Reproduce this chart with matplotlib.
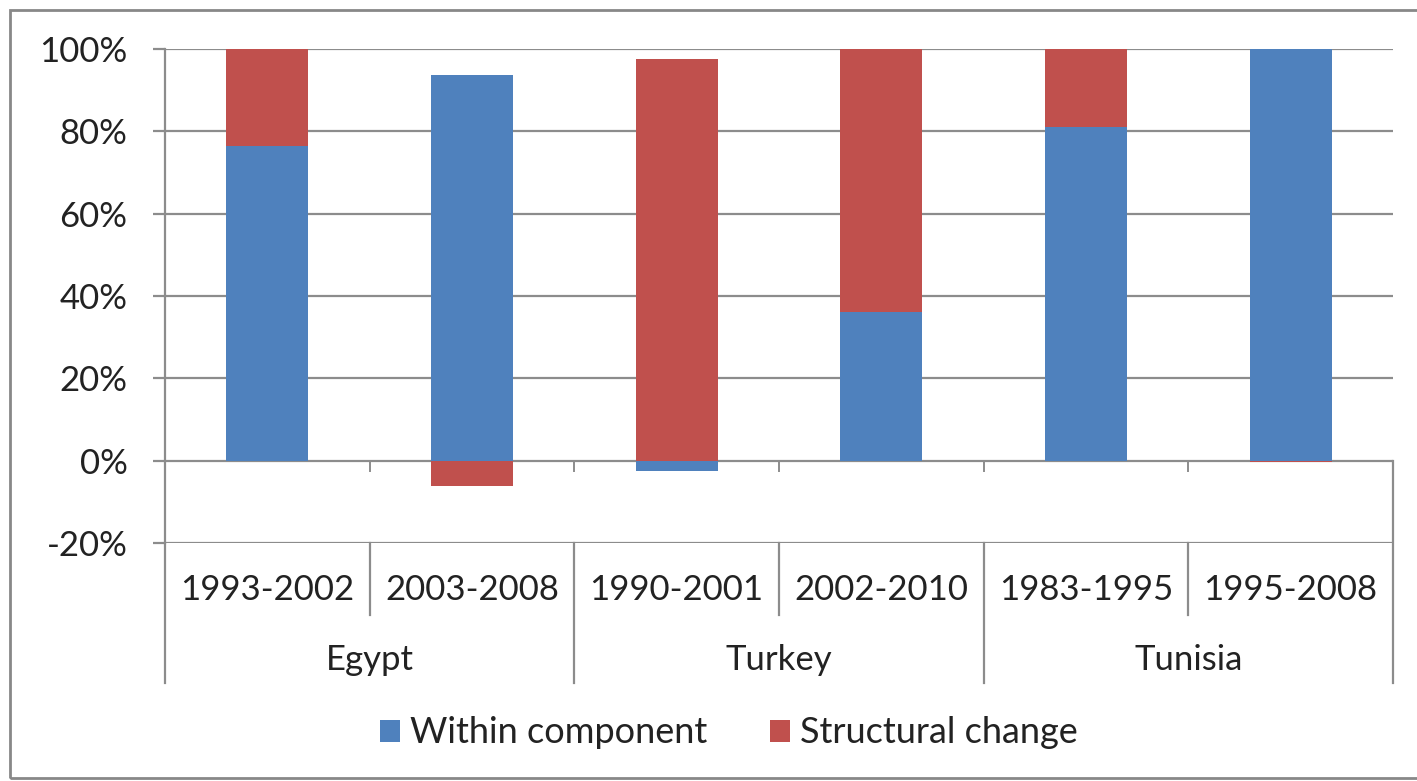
import matplotlib.pyplot as plt
from matplotlib.patches import Rectangle
from matplotlib.transforms import blended_transform_factory
import numpy as np

plt.rcParams['font.family'] = ['Lato', 'DejaVu Sans']

periods = ['1993-2002', '2003-2008', '1990-2001', '2002-2010', '1983-1995', '1995-2008']
countries = ['Egypt', 'Turkey', 'Tunisia']
within = [76.5, 93.7, -2.5, 36.2, 81.0, 100.0]
structural = [23.5, -6.1, 97.5, 63.8, 19.0, -0.4]

blue = '#4F81BD'
red = '#C0504D'
grid_c = '#8c8c8c'

fig = plt.figure(figsize=(14.17, 7.81), dpi=100)
ax = fig.add_axes([0.1164, 0.3047, 0.8666, 0.6326])

x = np.arange(len(periods))
w = np.array(within)
s = np.array(structural)
# Excel-style stacking: positives stack up from 0, negatives down from 0
w_base = np.zeros_like(w)
s_base = np.where(s >= 0, np.maximum(w, 0), np.minimum(w, 0))
ax.bar(x, w, 0.4, bottom=w_base, color=blue, label='Within component', zorder=3)
ax.bar(x, s, 0.4, bottom=s_base, color=red, label='Structural change', zorder=3)

ax.set_xlim(-0.5, len(periods) - 0.5)
ax.set_ylim(-20, 100)
ax.set_yticks(range(-20, 101, 20))
ax.set_yticklabels([f'{v}%' for v in range(-20, 101, 20)], fontsize=25, color='#222222')
ax.yaxis.grid(True, color=grid_c, lw=1.6, zorder=0)
ax.tick_params(axis='y', length=9, width=1.6, color=grid_c, pad=18)
ax.tick_params(axis='x', bottom=False, labelbottom=False)
for sp in ['top', 'right', 'bottom']:
    ax.spines[sp].set_visible(False)
ax.spines['left'].set_color(grid_c)
ax.spines['left'].set_linewidth(1.6)
ax.spines['left'].set_bounds(-20, 100)

tr = blended_transform_factory(ax.transData, ax.transAxes)
# small ticks on the zero line between categories
for b in np.arange(0.5, len(periods) - 1, 1.0):
    ax.plot([b, b], [0, -2.5], color=grid_c, lw=1.4, zorder=2)

# category label area
ax.plot([-0.5, -0.5], [0, -0.283], transform=tr, color=grid_c, lw=1.6, clip_on=False)
ax.plot([5.5, 5.5], [20 / 120, -0.283], transform=tr, color=grid_c, lw=1.6, clip_on=False)
for i, b in enumerate(np.arange(0.5, len(periods) - 1, 1.0)):
    bottom = -0.283 if i % 2 == 1 else -0.146
    ax.plot([b, b], [0, bottom], transform=tr, color=grid_c, lw=1.6, clip_on=False)
for xi, p in zip(x, periods):
    ax.text(xi, -0.095, p, transform=tr, ha='center', va='center', fontsize=25, color='#222222')
for i, c in enumerate(countries):
    ax.text(2 * i + 0.5, -0.237, c, transform=tr, ha='center', va='center', fontsize=25, color='#222222')

fig.legend(loc='center', bbox_to_anchor=(0.5145, 0.0615), ncol=2, frameon=False,
           fontsize=26, handlelength=0.55, handleheight=0.55, handletextpad=0.28,
           columnspacing=1.75, labelcolor='#222222')

fig.patches.append(Rectangle((0.007, 0.004), 1.0, 0.983, transform=fig.transFigure,
                             fill=False, edgecolor='#888888', lw=2))

fig.savefig('out.png', dpi=100)
